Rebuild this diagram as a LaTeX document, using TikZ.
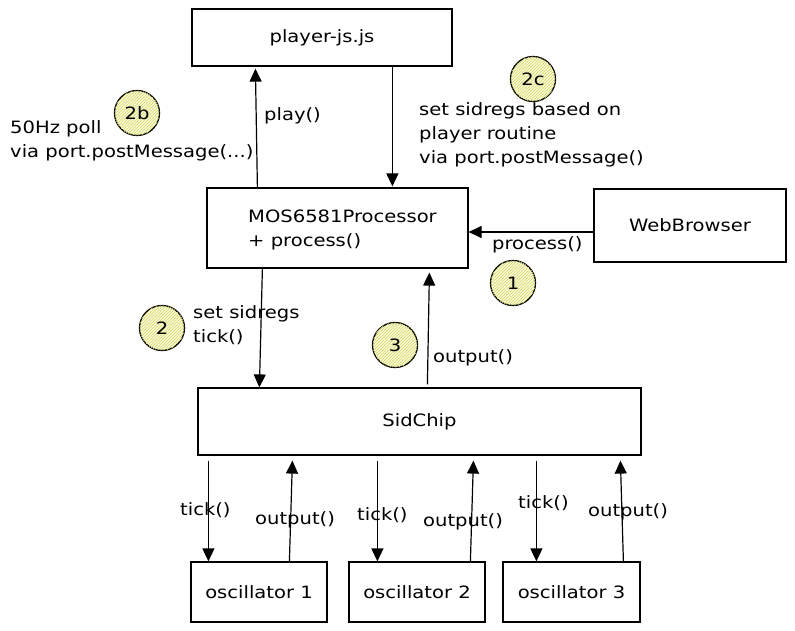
\documentclass[tikz,border=0pt]{standalone}
\usepackage{fontspec}
\setmainfont{DejaVu Sans}[FakeStretch=1.15]
\usetikzlibrary{arrows.meta,patterns}
\definecolor{hatch}{HTML}{D6DA5E}
\definecolor{hatchbg}{HTML}{F8F8DC}
\tikzset{
  box/.style={draw=black, line width=1.2pt, rectangle, inner sep=0pt, font=\fontsize{17}{22}\selectfont},
  arr/.style={line width=1.2pt, -{Triangle[length=13pt,width=12pt]}},
  lbl/.style={inner sep=0pt, align=left, font=\fontsize{17}{24}\selectfont},
  badge/.style={circle, draw=black, line width=1.3pt, minimum size=45pt, inner sep=0pt,
     fill=hatchbg, postaction={pattern=north east lines, pattern color=hatch},
     font=\fontsize{17}{18}\selectfont}
}
\begin{document}
\begin{tikzpicture}[x=1pt,y=-1pt]
\useasboundingbox (0,0) rectangle (795,631);
% boxes
\node[box, minimum width=260pt, minimum height=57pt] (player) at (322,37.5) {player-js.js};
\node[box, minimum width=261pt, minimum height=80pt, align=left] (mos) at (337.5,228) {};
\node[lbl, anchor=west] (mostext) at (248,230) {MOS6581Processor\\+ process()};
\node[box, minimum width=192pt, minimum height=73pt] (web) at (690,225.5) {WebBrowser};
\node[box, minimum width=443pt, minimum height=67pt] (sid) at (419.5,421.5) {SidChip};
\node[box, minimum width=136pt, minimum height=60pt] (osc1) at (259,592) {oscillator 1};
\node[box, minimum width=136pt, minimum height=60pt] (osc2) at (417,592) {oscillator 2};
\node[box, minimum width=137pt, minimum height=60pt] (osc3) at (571.5,592) {oscillator 3};
% connectors
\draw[arr] ([xshift=51pt]mos.north west) -- ([xshift=64pt,yshift=-2pt]player.south west);
\draw[arr] ([xshift=201pt]player.south west) -- ([xshift=186pt,yshift=1pt]mos.north west);
\draw[arr] ([yshift=-6.5pt]web.west) -- ([yshift=-4pt]mos.east);
\draw[arr] ([xshift=56pt]mos.south west) -- ([xshift=62pt]sid.north west);
\draw[arr] ([xshift=230pt,yshift=3pt]sid.north west) -- ([xshift=223pt,yshift=-4pt]mos.south west);
\draw[arr] ([xshift=11pt,yshift=-5pt]sid.south west) -- ([xshift=18pt]osc1.north west);
\draw[arr] ([xshift=99pt]osc1.north west) -- ([xshift=95pt,yshift=-5pt]sid.south west);
\draw[arr] ([xshift=180pt,yshift=-5pt]sid.south west) -- ([xshift=29pt]osc2.north west);
\draw[arr] ([xshift=122pt]osc2.north west) -- ([xshift=276pt,yshift=-5pt]sid.south west);
\draw[arr] ([xshift=339pt,yshift=-5pt]sid.south west) -- ([xshift=34pt]osc3.north west);
\draw[arr] ([xshift=121pt]osc3.north west) -- ([xshift=423pt,yshift=-5pt]sid.south west);
% labels
\node[lbl, anchor=west] (lplay) at (264,116) {play()};
\node[lbl, anchor=west] (lpoll) at (10,141) {50Hz poll\\via port.postMessage(...)};
\node[lbl, anchor=west] (lset) at (419,135) {set sidregs based on\\player routine\\via port.postMessage()};
\node[lbl, anchor=west] (lproc) at (492,245) {process()};
\node[lbl, anchor=west] (ltick) at (193,325) {set sidregs\\tick()};
\node[lbl, anchor=west] (lout) at (433,358) {output()};
\node[lbl, anchor=west] (t1) at (180,510) {tick()};
\node[lbl, anchor=west] (o1) at (255,520) {output()};
\node[lbl, anchor=west] (t2) at (357,515) {tick()};
\node[lbl, anchor=west] (o2) at (423,522) {output()};
\node[lbl, anchor=west] (t3) at (518,503) {tick()};
\node[lbl, anchor=west] (o3) at (588,512) {output()};
% badges
\node[badge] (b2b) at (137,113) {2b};
\node[badge] (b2c) at (533,79) {2c};
\node[badge] (b1) at (513,283) {1};
\node[badge] (b2) at (162,328) {2};
\node[badge] (b3) at (395,345) {3};
\end{tikzpicture}
\end{document}
